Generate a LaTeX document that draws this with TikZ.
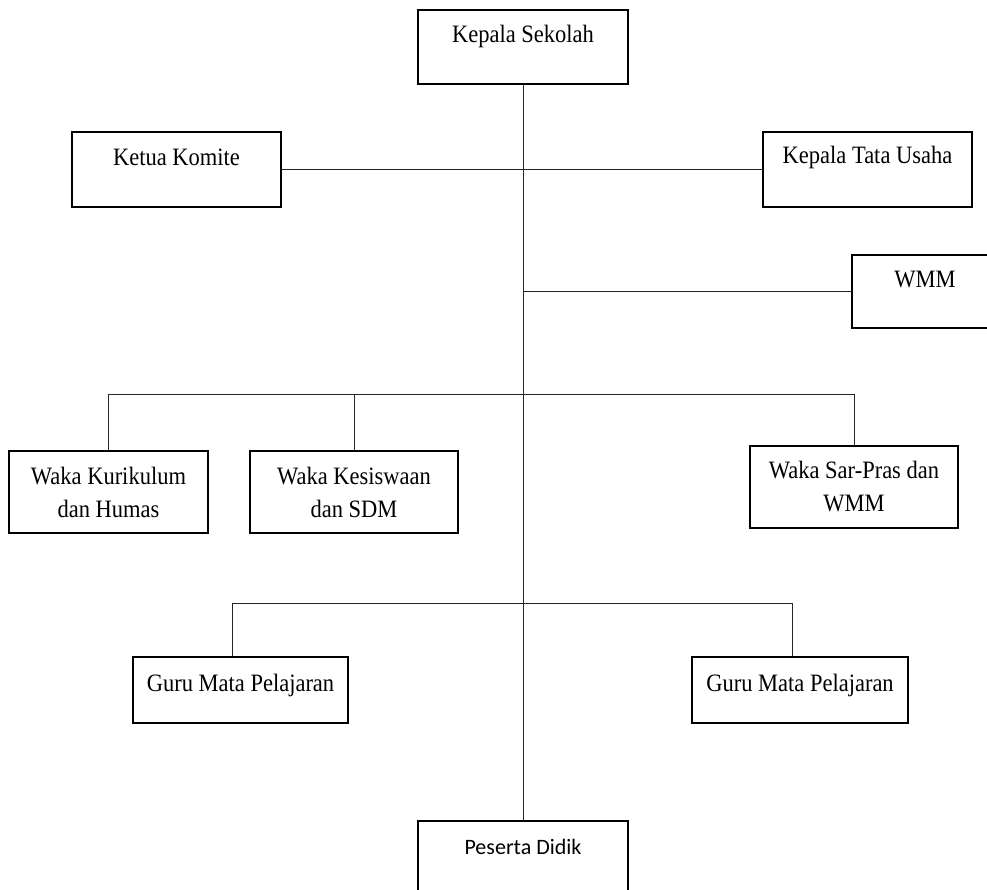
\documentclass[tikz,border=0pt]{standalone}
\usepackage{fontspec}
\setmainfont{Liberation Serif}[FakeStretch=0.9]
\newfontfamily\calibrifont{Carlito}
\usepackage{tikz}
\usetikzlibrary{positioning}

\begin{document}
\begin{tikzpicture}[x=1pt, y=-1pt,
        unit/.style={draw, line width=2.8pt, inner sep=0pt, align=center,
            font=\fontsize{25}{33}\selectfont},
        oneline/.style={text height=33pt, text depth=41pt},
        twoline/.style={minimum height=82pt},
        link/.style={line width=0.8pt, black!85}
    ]
    \useasboundingbox (0,0) rectangle (987,890);

    % kotak
    \node[unit, oneline, minimum width=210pt] (ks) at (523,47) {Kepala Sekolah};
    \node[unit, oneline, minimum width=209pt, text height=34pt] (kk) at (176.5,169.5) {Ketua Komite};
    \node[unit, oneline, minimum width=209pt, text height=32pt, text depth=43pt] (ktu) at (867.5,169.5) {Kepala Tata Usaha};
    \node[unit, oneline, minimum width=146pt, text depth=40pt] (wmm) at (925,291.5) {WMM};
    \node[unit, twoline, minimum width=199pt] (wkur) at (108.5,492) {Waka Kurikulum\\dan Humas};
    \node[unit, twoline, minimum width=208pt] (wkes) at (354,492) {Waka Kesiswaan\\dan SDM};
    \node[unit, twoline, minimum width=208pt] (wsp) at (854,487) {Waka Sar-Pras dan\\WMM};
    \node[unit, oneline, minimum width=215pt, text height=34pt, text depth=32pt] (guru1) at (240.5,690) {Guru Mata Pelajaran};
    \node[unit, oneline, minimum width=216pt, text height=34pt, text depth=32pt] (guru2) at (800,690) {Guru Mata Pelajaran};
    \node[unit, oneline, minimum width=210pt, font=\calibrifont\fontsize{22}{26}\selectfont] (pd) at (523,858) {Peserta Didik};

    \coordinate (bus1) at (523,394);
    \coordinate (bus2) at (523,603);

    % garis
    \draw[link] (ks) -- (pd);
    \draw[link] (kk) -- (ktu);
    \draw[link] (wmm.west) -- (wmm.west -| ks.south);
    \draw[link] (wkur.north) |- (wsp.north |- bus1) -- (wsp.north);
    \draw[link] (wkes.north) -- (wkes.north |- bus1);
    \draw[link] ([xshift=-8pt]guru1.north) |- ([xshift=-8pt]guru2.north |- bus2) -- ([xshift=-8pt]guru2.north);

\end{tikzpicture}
\end{document}
